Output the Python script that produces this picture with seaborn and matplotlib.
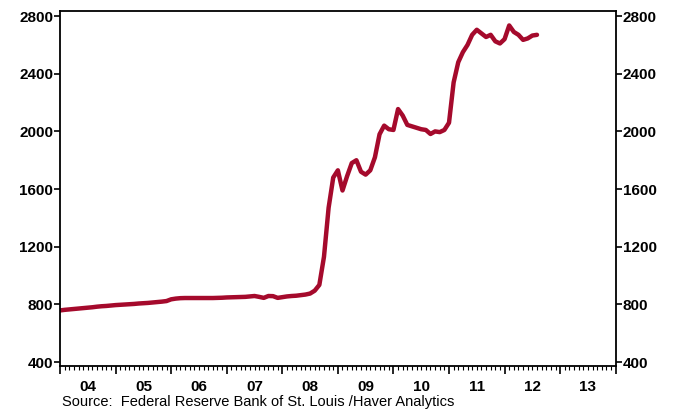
import numpy as np
import pandas as pd
import seaborn as sns
import matplotlib.pyplot as plt

# monthly values, Jan 2004 .. Aug 2012
base_2004 = [758, 762, 765, 768, 771, 774, 777, 780, 784, 787, 789, 792]
base_2005 = [795, 797, 799, 801, 803, 806, 808, 810, 813, 816, 819, 823]
base_2006 = [835, 840, 843, 844, 844, 844, 844, 844, 844, 844, 845, 846]
base_2007 = [848, 849, 850, 851, 852, 855, 858, 852, 845, 858, 857, 845]
base_2008 = [850, 855, 858, 860, 864, 868, 875, 895, 935, 1130, 1470, 1680]
base_2009 = [1730, 1590, 1690, 1780, 1800, 1720, 1700, 1730, 1820, 1980, 2040, 2015]
base_2010 = [2010, 2155, 2110, 2045, 2035, 2025, 2015, 2010, 1982, 2000, 1995, 2010]
base_2011 = [2060, 2340, 2480, 2550, 2600, 2670, 2705, 2680, 2655, 2670, 2625, 2610]
base_2012 = [2640, 2735, 2690, 2670, 2635, 2645, 2665, 2670]

values = (base_2004 + base_2005 + base_2006 + base_2007 + base_2008
          + base_2009 + base_2010 + base_2011 + base_2012)
dates = 2004 + np.arange(len(values)) / 12.0
df = pd.DataFrame({"date": dates, "base": values})

year_labels = ["04", "05", "06", "07", "08", "09", "10", "11", "12", "13"]

sns.set_style("ticks")
plt.rcParams["font.family"] = ["Liberation Sans", "DejaVu Sans"]
plt.rcParams["text.color"] = "black"
plt.rcParams["xtick.color"] = "black"
plt.rcParams["ytick.color"] = "black"

fig = plt.figure(figsize=(6.76, 4.09), dpi=100)
ax = fig.add_axes([0.0888, 0.105, 0.822, 0.868])

sns.lineplot(data=df, x="date", y="base", ax=ax, color="#a50a2c", linewidth=3.2)

ax.set_xlim(2004, 2014)
ax.set_ylim(372, 2835)
ax.set_yticks([400, 800, 1200, 1600, 2000, 2400, 2800])
ax.set_xlabel("")
ax.set_ylabel("")

ax.set_xticks(np.arange(2004, 2015))
ax.set_xticklabels([])
ax.set_xticks(2004 + np.arange(121) / 12.0, minor=True)

ax.tick_params(axis="y", which="both", left=True, right=True, labelleft=True,
               labelright=True, direction="out", length=4, width=1.2,
               labelsize=11, pad=1)
ax.tick_params(axis="x", which="major", direction="out", length=6, width=1.2)
ax.tick_params(axis="x", which="minor", direction="out", length=3, width=0.8)
for lab in ax.get_yticklabels():
    lab.set_fontweight("bold")

for s in ax.spines.values():
    s.set_visible(True)
    s.set_linewidth(1.3)
    s.set_color("black")

sec = ax.secondary_xaxis("bottom")
sec.set_xticks(np.arange(2004, 2014) + 0.5, year_labels)
sec.tick_params(length=0, pad=10, labelsize=11)
for lab in sec.get_xticklabels():
    lab.set_fontweight("bold")
sec.spines["bottom"].set_visible(False)

fig.text(0.092, 0.0, "Source:  Federal Reserve Bank of St. Louis /Haver Analytics",
         fontsize=10.5, ha="left", va="bottom")

fig.savefig("out.png", dpi=100)
